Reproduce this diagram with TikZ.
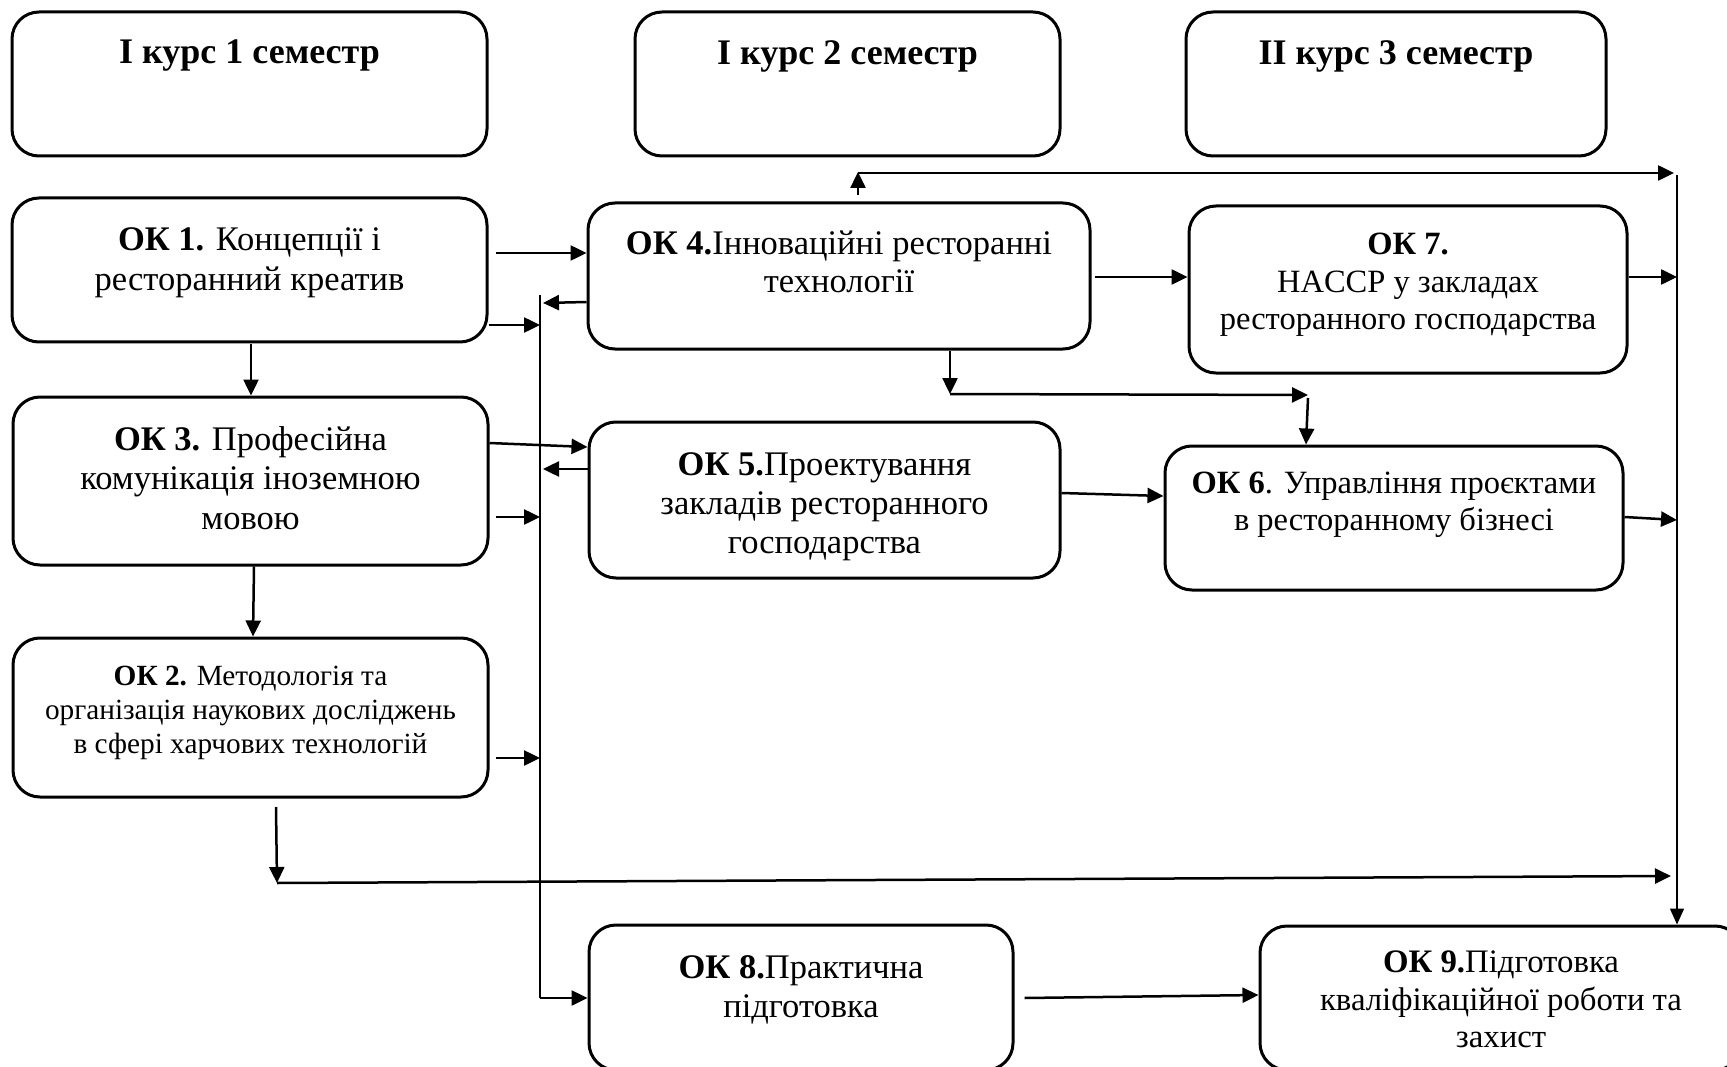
\documentclass[tikz,border=0pt]{standalone}
\usepackage{fontspec}
\setmainfont{Liberation Serif}
\usetikzlibrary{arrows.meta,calc}
\begin{document}
\begin{tikzpicture}[x=1pt,y=-1pt,
  box/.style={draw, line width=3pt, rounded corners=27pt, inner sep=0pt},
  txt/.style={align=center, inner sep=0pt, anchor=north, font=\fontsize{34.5}{38}\selectfont},
  hdr/.style={align=center, inner sep=0pt, anchor=north, font=\bfseries\fontsize{36}{40}\selectfont},
  con/.style={line width=2.5pt, -{Triangle[length=16pt,width=15pt]}},
  thinl/.style={line width=1.6pt},
  thinc/.style={line width=1.6pt, -{Triangle[length=16pt,width=14pt]}},
]
\useasboundingbox (0,0) rectangle (1727,1067);
\fill[white] (0,0) rectangle (1727,1067);

% header boxes
\node[box, minimum width=475pt, minimum height=144pt] (h1) at (249.5,84) {};
\node[box, minimum width=425pt, minimum height=144pt] (h2) at (847.5,84) {};
\node[box, minimum width=420pt, minimum height=144pt] (h3) at (1396,84) {};
\node[hdr] (h1t) at (h1.north |- 0,40) {І курс 1 семестр};
\node[hdr] (h2t) at (h2.north |- 0,40) {І курс 2 семестр};
\node[hdr] (h3t) at (h3.north |- 0,40) {ІІ курс 3 семестр};

% course boxes
\node[box, minimum width=475pt, minimum height=144pt] (ok1) at (249.5,270) {};
\node[box, minimum width=502pt, minimum height=146pt] (ok4) at (839,276) {};
\node[box, minimum width=438pt, minimum height=167pt] (ok7) at (1408,289.5) {};
\node[box, minimum width=475pt, minimum height=168pt] (ok3) at (250.5,481) {};
\node[box, minimum width=471pt, minimum height=156pt] (ok5) at (824.5,500) {};
\node[box, minimum width=458pt, minimum height=144pt] (ok6) at (1394,518) {};
\node[box, minimum width=475pt, minimum height=159pt] (ok2) at (250.5,717.5) {};
\node[box, minimum width=424pt, minimum height=145pt] (ok8) at (801,997.5) {};
\node[box, minimum width=482pt, minimum height=144pt] (ok9) at (1501,998) {};

\node[txt, font=\fontsize{34.5}{40}\selectfont] (ok1t) at (ok1.north |- 0,227) {\textbf{ОК 1.} Концепції і\\ресторанний креатив};
\node[txt] (ok4t) at (ok4.north |- 0,231) {\textbf{ОК 4.}Інноваційні ресторанні\\технології};
\node[txt, font=\fontsize{32.5}{37.5}\selectfont] (ok7t) at (ok7.north |- 0,233) {\textbf{ОК 7.}\\HACCP у закладах\\ресторанного господарства};
\node[txt, font=\fontsize{34.5}{39.5}\selectfont] (ok3t) at (ok3.north |- 0,426) {\textbf{ОК 3.} Професійна\\комунікація іноземною\\мовою};
\node[txt, font=\fontsize{34.5}{39}\selectfont] (ok5t) at (ok5.north |- 0,452) {\textbf{ОК 5.}Проектування\\закладів ресторанного\\господарства};
\node[txt, font=\fontsize{32.5}{37}\selectfont] (ok6t) at (ok6.north |- 0,472) {\textbf{ОК 6}. Управління проєктами\\в ресторанному бізнесі};
\node[txt, font=\fontsize{29.3}{34}\selectfont] (ok2t) at (ok2.north |- 0,666) {\textbf{ОК 2.} Методологія та\\організація наукових досліджень\\в сфері харчових технологій};
\node[txt, font=\fontsize{34.5}{39}\selectfont] (ok8t) at (ok8.north |- 0,955) {\textbf{ОК 8.}Практична\\підготовка};
\node[txt, font=\fontsize{32.8}{37.5}\selectfont] (ok9t) at (ok9.north |- 0,951) {\textbf{ОК 9.}Підготовка\\кваліфікаційної роботи та\\захист};

% collector lines
\coordinate (L) at (540,295);
\coordinate (Lb) at (540,998);
\coordinate (R) at (1677,175);
\draw[thinl] (L) -- (Lb);
\draw[thinc] (R) -- (ok9.north -| R);

% connectors
\draw[con] ($(ok1.east |- 0,253)+(7,0)$) -- (ok4.west |- 0,253);
\draw[con] (ok1.east |- 0,325) -- (L |- 0,325);
\draw[con] (ok4.west |- 0,302) -- ($(L |- 0,303)+(3,0)$);
\draw[con] (ok1.south -| 251,0) -- (ok3.north -| 251,0);
\draw[con] (ok3.east |- 0,443) -- (ok5.west |- 0,447);
\draw[con] (ok5.west |- 0,469) -- ($(L |- 0,469)+(3,0)$);
\draw[con] ($(ok3.east |- 0,517)+(6,0)$) -- (L |- 0,517);
\draw[con] (ok3.south -| 254,0) -- (ok2.north -| 253,0);
\draw[con] ($(ok2.east |- 0,758)+(6,0)$) -- (L |- 0,758);

\coordinate (B1) at (276,807);
\coordinate (B2) at (277,883);
\draw[con] (B1) -- (B2);
\draw[con] (B2) -- ($(R |- 0,876)+(-6,0)$);

\draw[con] (Lb) -- (ok8.west |- Lb);
\draw[con] ($(ok8.east |- 0,998)+(10,0)$) -- (ok9.west |- 0,995);

\coordinate (T1) at (858,173);
\draw[con] ($(ok4.north -| T1)+(0,-6)$) -- ($(T1)+(0,-1)$);
\draw[con] (T1) -- ($(R |- T1)+(-3,0)$);

\draw[con] ($(ok4.east |- 0,277)+(3,0)$) -- (ok7.west |- 0,277);
\draw[con] (ok7.east |- 0,277) -- (R |- 0,277);

\coordinate (D1) at (950,394);
\coordinate (D2) at (1308,395);
\draw[con] (ok4.south -| D1) -- (D1);
\draw[con] (D1) -- (D2);
\draw[con] ($(D2)+(0,3)$) -- (ok6.north -| 1306,0);

\draw[con] (ok5.east |- 0,493) -- (ok6.west |- 0,496);
\draw[con] (ok6.east |- 0,517) -- (R |- 0,520);
\end{tikzpicture}
\end{document}
